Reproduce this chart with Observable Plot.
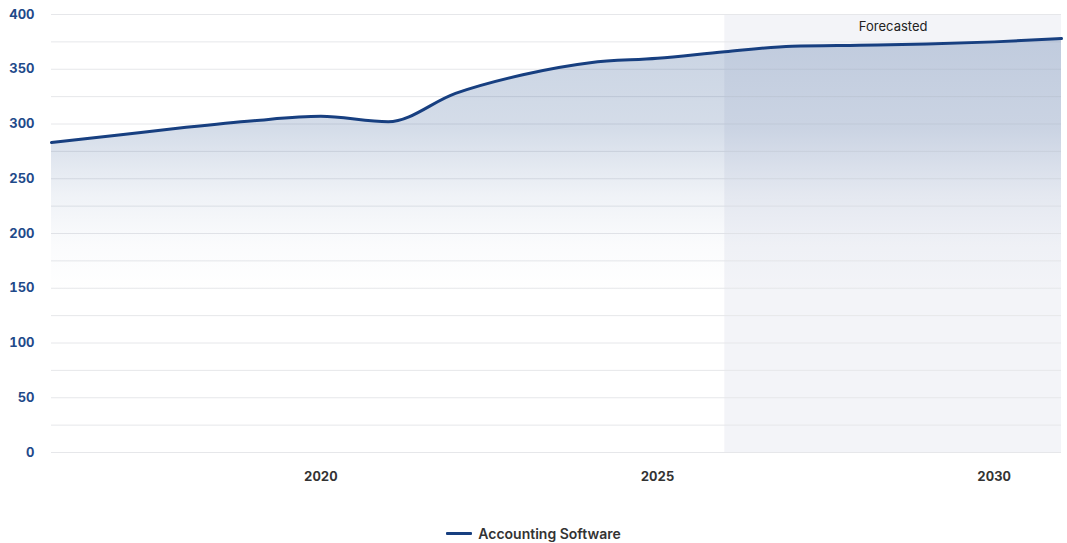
<!DOCTYPE html>
<html>
<head>
<meta charset="utf-8">
<script src="https://cdn.jsdelivr.net/npm/d3@7"></script>
<script src="https://cdn.jsdelivr.net/npm/@observablehq/plot@0.6"></script>
<style>
  html, body { margin: 0; padding: 0; background: #fff; }
  body { width: 1067px; height: 543px; overflow: hidden; font-family: Inter, "Noto Sans", sans-serif; }
  #legend { display: flex; justify-content: center; align-items: center; height: 20px; margin-top: 23px; font-size: 14px; font-weight: 600; color: #333; }
  #legend .sw { display: inline-block; width: 26px; height: 3px; background: #173f80; margin-right: 6px; border-radius: 1px; }
</style>
</head>
<body>
<div id="chart"></div>
<div id="legend"><span class="sw"></span><span>Accounting Software</span></div>
<script>
const years = [2016, 2017, 2018, 2019, 2020, 2021, 2022, 2023, 2024, 2025, 2026, 2027, 2028, 2029, 2030, 2031];
const values = [283, 290, 297, 303, 307, 302, 328, 345, 356, 360, 366, 371, 372, 373, 375, 378];
const forecastStart = 2026;
const forecastEnd = 2031;
const forecastLabel = "Forecasted";
const seriesName = "Accounting Software";
const yTicks = [0, 50, 100, 150, 200, 250, 300, 350, 400];
const yGrid = [0, 25, 50, 75, 100, 125, 150, 175, 200, 225, 250, 275, 300, 325, 350, 375, 400];
const xTicks = [2020, 2025, 2030];

const data = years.map((y, i) => ({year: y, value: values[i]}));
const lineColor = "#173f80";

const defs = () => {
  const g = d3.create("svg:defs");
  const lg = g.append("linearGradient").attr("id", "areaGrad").attr("x1", 0).attr("y1", 0).attr("x2", 0).attr("y2", 1);
  lg.append("stop").attr("offset", "0%").attr("stop-color", "#1f4a8a").attr("stop-opacity", 0.24);
  lg.append("stop").attr("offset", "22%").attr("stop-color", "#1f4a8a").attr("stop-opacity", 0.19);
  lg.append("stop").attr("offset", "38%").attr("stop-color", "#1f4a8a").attr("stop-opacity", 0.07);
  lg.append("stop").attr("offset", "50%").attr("stop-color", "#1f4a8a").attr("stop-opacity", 0.02);
  lg.append("stop").attr("offset", "62%").attr("stop-color", "#1f4a8a").attr("stop-opacity", 0);
  return g.node();
};

const chart = Plot.plot({
  width: 1067,
  height: 500,
  marginTop: 14,
  marginBottom: 48,
  marginLeft: 51,
  marginRight: 6,
  style: {fontFamily: "Inter, 'Noto Sans', sans-serif", background: "#fff"},
  x: {domain: [2016, 2031], ticks: xTicks, tickFormat: d => String(d), tickSize: 0, tickPadding: 19, label: null},
  y: {domain: [0, 400], ticks: yTicks, tickSize: 0, tickPadding: 17, label: null},
  marks: [
    defs,
    Plot.rectY([{x1: forecastStart, x2: forecastEnd}], {x1: "x1", x2: "x2", y1: 0, y2: 400, fill: "#f3f4f8"}),
    Plot.ruleY(yGrid, {stroke: "#e6e7ea", strokeWidth: 1}),
    Plot.areaY(data, {x: "year", y1: 0, y2: "value", curve: "monotone-x", fill: "url(#areaGrad)"}),
    Plot.lineY(data, {x: "year", y: "value", curve: "monotone-x", stroke: lineColor, strokeWidth: 3}),
    Plot.text([forecastLabel], {x: (forecastStart + forecastEnd) / 2, y: 400, dy: 12, text: d => d, fontSize: 13, fill: "#222"}),
    Plot.axisY({ticks: yTicks, tickSize: 0, tickPadding: 17, fontSize: 13, fontWeight: 700, fill: "#1f4a8a"}),
    Plot.axisX({ticks: xTicks, tickFormat: d => String(d), tickSize: 0, tickPadding: 19, fontSize: 13, fontWeight: 700, fill: "#333"})
  ]
});
document.getElementById("chart").appendChild(chart);
</script>
</body>
</html>
